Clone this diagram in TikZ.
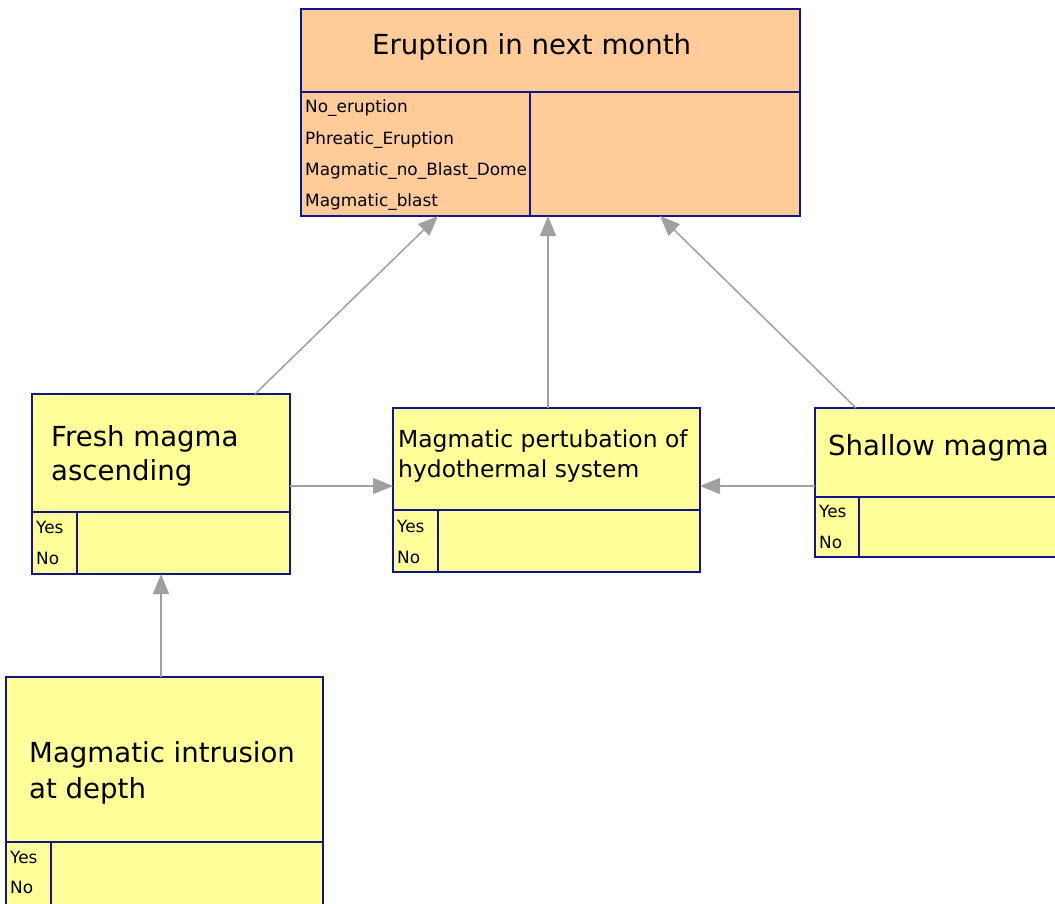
\documentclass[tikz,border=0pt]{standalone}
\usepackage{fontspec}
\setmainfont{DejaVu Sans}
\usetikzlibrary{arrows.meta}
\definecolor{navy}{RGB}{20,20,135}
\definecolor{peach}{RGB}{255,204,153}
\definecolor{lemon}{RGB}{255,255,153}
\definecolor{arrowgray}{RGB}{160,160,160}
\tikzset{
  box/.style={draw=navy, line width=1.4pt, rectangle, anchor=north west, outer sep=0pt, inner sep=0pt},
  divider/.style={draw=navy, line width=1.4pt},
  ttl/.style={anchor=base west, inner sep=0pt, font=\fontsize{27.6}{32}\selectfont},
  ttlsmall/.style={anchor=base west, inner sep=0pt, font=\fontsize{23.4}{28}\selectfont},
  small/.style={anchor=base west, inner sep=0pt, font=\fontsize{16.9}{20}\selectfont},
  arr/.style={draw=arrowgray, line width=1.5pt, -{Triangle[length=20pt,width=16pt]}, fill=arrowgray}
}
\begin{document}
\begin{tikzpicture}[x=1pt,y=-1pt]
\useasboundingbox (0,0) rectangle (1055,903);
\clip (0,0) rectangle (1055,903);
\fill[white] (0,0) rectangle (1055,903);

% boxes
\node[box, fill=peach, minimum width=499pt, minimum height=207pt] (erupt) at (301,9) {};
\node[box, fill=lemon, minimum width=258pt, minimum height=180pt] (fresh) at (32,394) {};
\node[box, fill=lemon, minimum width=307pt, minimum height=164pt] (pert) at (393,408) {};
\node[box, fill=lemon, minimum width=260pt, minimum height=149pt] (shallow) at (815,408) {};
\node[box, fill=lemon, minimum width=317pt, minimum height=240pt] (intr) at (6,677) {};

% dividers
\draw[divider] (301,92) -- (800,92) (530,92) -- (530,216);
\draw[divider] (32,512) -- (290,512) (77,512) -- (77,574);
\draw[divider] (393,510) -- (700,510) (438,510) -- (438,572);
\draw[divider] (815,497) -- (1075,497) (859,497) -- (859,557);
\draw[divider] (6,842) -- (323,842) (51,842) -- (51,917);

% texts
\node[ttl] (t1) at (372,54) {Eruption in next month};
\node[small] (s1) at (305,112.5) {No\_eruption};
\node[small] (s2) at (305,144) {Phreatic\_Eruption};
\node[small] (s3) at (305,175) {Magmatic\_no\_Blast\_Dome};
\node[small] (s4) at (305,206) {Magmatic\_blast};

\node[ttl] (t2a) at (51,446) {Fresh magma};
\node[ttl] (t2b) at (51,480) {ascending};
\node[small] (y2) at (36,533) {Yes};
\node[small] (n2) at (36,564) {No};

\node[ttlsmall] (t3a) at (398,447) {Magmatic pertubation of};
\node[ttlsmall] (t3b) at (398,477) {hydothermal system};
\node[small] (y3) at (397,532) {Yes};
\node[small] (n3) at (397,563) {No};

\node[ttl] (t4) at (828,455) {Shallow magma};
\node[small] (y4) at (819,517) {Yes};
\node[small] (n4) at (819,548) {No};

\node[ttl] (t5a) at (29,762) {Magmatic intrusion};
\node[ttl] (t5b) at (29,798) {at depth};
\node[small] (y5) at (10,863) {Yes};
\node[small] (n5) at (10,893) {No};

% connectors
\draw[arr] ([xshift=94pt]fresh.north) -- ([xshift=-112.5pt]erupt.south);
\draw[arr] ([xshift=1.5pt]pert.north) -- ([xshift=-2.5pt]erupt.south);
\draw[arr] ([xshift=-89pt]shallow.north) -- ([xshift=109.5pt]erupt.south);
\draw[arr] ([yshift=-2pt]fresh.east) -- ([yshift=4pt]pert.west);
\draw[arr] ([yshift=-3.5pt]shallow.west) -- ([yshift=4pt]pert.east);
\draw[arr] (intr.north -| fresh.south) -- (fresh.south);
\end{tikzpicture}
\end{document}
